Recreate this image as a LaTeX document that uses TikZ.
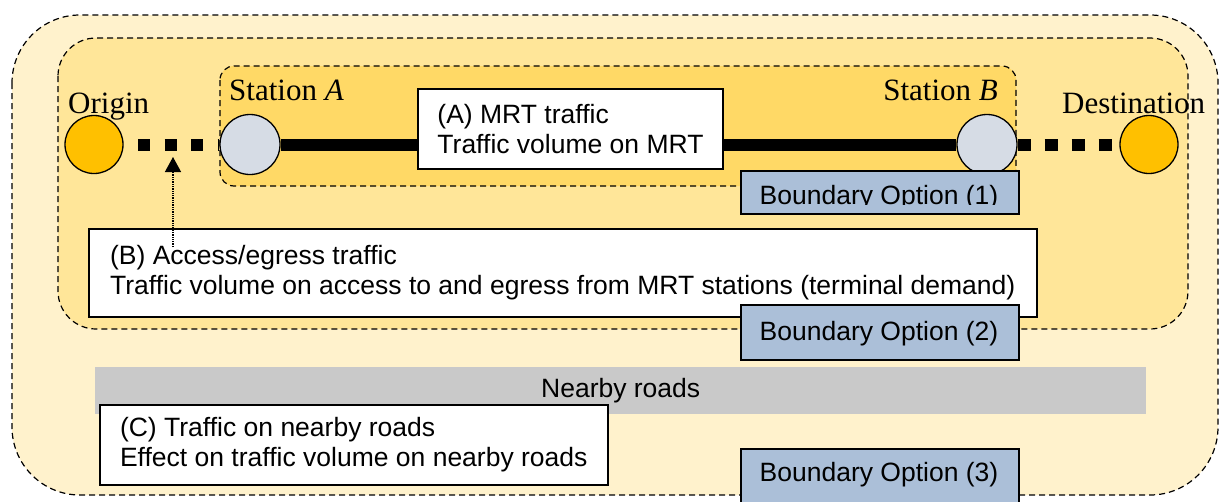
\documentclass[tikz,border=0pt]{standalone}
\usepackage{fontspec}
\setmainfont{Liberation Serif}
\setsansfont{Liberation Sans}
\usetikzlibrary{arrows.meta}
\definecolor{outerfill}{HTML}{FFF2CC}
\definecolor{midfill}{HTML}{FFE699}
\definecolor{innerfill}{HTML}{FFD966}
\definecolor{ptfill}{HTML}{FFC000}
\definecolor{stfill}{HTML}{D6DCE5}
\definecolor{optfill}{HTML}{ABBFD8}
\definecolor{roadfill}{HTML}{C9C9C9}
\begin{document}
\begin{tikzpicture}[x=1pt,y=-1pt,
  region/.style={draw=black, line width=1.2pt, dash pattern=on 6pt off 4pt},
  place/.style={circle, draw=black, line width=1.3pt, minimum size=58pt, inner sep=0pt},
  serif/.style={font=\fontsize{31}{33}\selectfont, inner sep=0pt},
  sans/.style={font=\sffamily\fontsize{26.5}{30}\selectfont},
  infobox/.style={sans, draw=black, line width=1.5pt, fill=white, align=left, inner sep=0pt},
  optbox/.style={draw=black, line width=1.5pt, fill=optfill, inner sep=0pt, minimum width=278pt, anchor=north west},
  opttext/.style={sans, inner sep=0pt, anchor=base},
  thick line/.style={line width=12pt},
]
\clip (0,0) rectangle (1219,501);
\fill[white] (0,0) rectangle (1219,501);
% regions
\draw[region, fill=outerfill, rounded corners=68pt] (12,15) rectangle (1218,495);
\draw[region, fill=midfill, rounded corners=38pt] (58,38) rectangle (1188,329);
\draw[region, fill=innerfill, rounded corners=14pt] (220,66) rectangle (1016,186);
% nearby roads bar
\node[fill=roadfill, minimum width=1051pt, minimum height=47pt, inner sep=0pt, sans, anchor=north west] (road) at (95,367) {Nearby roads};
% places
\node[place, fill=ptfill] (O) at (94,144.5) {};
\node[place, fill=stfill, minimum size=60pt] (A) at (250,144.5) {};
\node[place, fill=stfill, minimum size=60pt] (B) at (987,144.5) {};
\node[place, fill=ptfill] (D) at (1149,144.5) {};
% connections
\draw[thick line] (A) -- (B);
\draw[thick line, dash pattern=on 12pt off 14.5pt, dash phase=12pt] (O) -- (A);
\draw[thick line, dash pattern=on 13pt off 14pt] (B) -- (D);
% labels
\node[serif, anchor=base west] (lO) at (68,113) {Origin};
\node[serif, anchor=base west] (lA) at (229,100) {Station \textit{A}};
\node[serif, anchor=base east] (lB) at (998,100) {Station \textit{B}};
\node[serif, anchor=base west] (lD) at (1062,113) {Destination};
% box A
\node[infobox, minimum width=305pt, minimum height=80pt] (bA) at (570.5,129) {(A) MRT traffic\\Traffic volume on MRT};
% boundary option 1
\node[optbox, minimum height=43pt] (o1) at (740,170) {};
\begin{scope}
\clip (740,170) rectangle (1017,204);
\node[opttext] (o1t) at (879,204) {Boundary Option (1)};
\end{scope}
% box B
\node[infobox, minimum width=948pt, minimum height=88pt, anchor=north west] (bB) at (88,228) {(B) Access/egress traffic\\Traffic volume on access to and egress from MRT stations (terminal demand)};
% boundary option 2
\node[optbox, minimum height=55pt] (o2) at (740,304) {};
\node[opttext] (o2t) at (879,340) {Boundary Option (2)};
% box C
\node[infobox, minimum width=508pt, minimum height=80pt, anchor=north west] (bC) at (99,404) {(C) Traffic on nearby roads\\Effect on traffic volume on nearby roads};
% boundary option 3
\node[optbox, minimum height=70pt] (o3) at (740,448) {};
\node[opttext] (o3t) at (879,481) {Boundary Option (3)};
% arrow
\coordinate (acc) at (173,157);
\coordinate (bsrc) at (173,247);
\draw[densely dotted, line width=1.3pt, -{Triangle[width=16pt,length=15pt]}] (bsrc) -- (acc);
\end{tikzpicture}
\end{document}
